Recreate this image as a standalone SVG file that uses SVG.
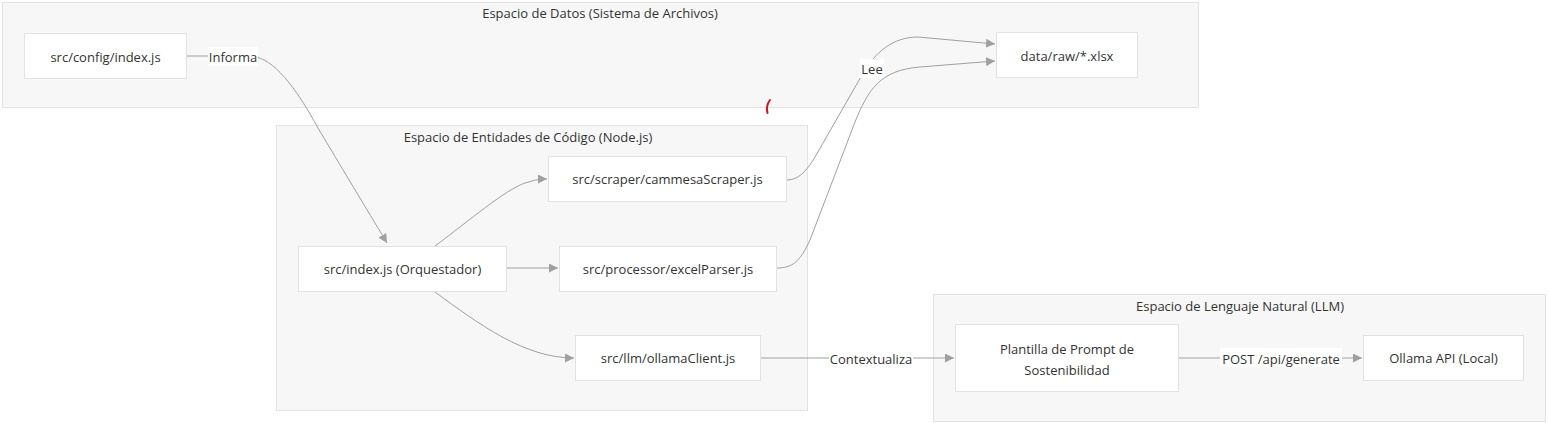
<svg xmlns="http://www.w3.org/2000/svg" width="1549" height="423" viewBox="0 0 1549 423">
  <style>
    text { font-family: "Open Sans", "Noto Sans", "Liberation Sans", sans-serif; font-size: 13px; fill: #333333; }
    .cluster rect { fill: #f7f7f7; stroke: #e2e2e2; stroke-width: 1; }
    .node rect { fill: #ffffff; stroke: #e2e2e2; stroke-width: 1; }
    .edge { fill: none; stroke: #a0a0a0; stroke-width: 1; }
    .lbl-bg { fill: #ffffff; }
    .mid { text-anchor: middle; dominant-baseline: central; }
  </style>
  <defs>
    <marker id="arrow" viewBox="0 0 10 10" refX="10" refY="5" markerWidth="9" markerHeight="9" markerUnits="userSpaceOnUse" orient="auto">
      <path d="M0,0 L10,5 L0,10 z" fill="#a0a0a0"/>
    </marker>
  </defs>
  <rect width="1549" height="423" fill="#ffffff"/>

  <!-- subgraphs -->
  <g id="cluster-datos" class="cluster">
    <rect x="2.5" y="2.5" width="1196" height="105"/>
    <text class="mid" x="600" y="13">Espacio de Datos (Sistema de Archivos)</text>
  </g>
  <g id="cluster-codigo" class="cluster">
    <rect x="276.5" y="125.5" width="531" height="285"/>
    <text class="mid" x="528" y="137">Espacio de Entidades de Código (Node.js)</text>
  </g>
  <g id="cluster-llm" class="cluster">
    <rect x="933.5" y="294.5" width="612" height="127"/>
    <text class="mid" x="1240" y="306">Espacio de Lenguaje Natural (LLM)</text>
  </g>

  <!-- connectors -->
  <g id="connectors">
    <path class="edge" d="M186,56 L208,56"/>
    <path class="edge" d="M256,57 C278,62 300,95 318,128 C340,165 366,208 387,243" marker-end="url(#arrow)"/>
    <path class="edge" d="M435,246 C470,220 505,190 525,183 Q535,179 547,179" marker-end="url(#arrow)"/>
    <path class="edge" d="M507,268 L558,268" marker-end="url(#arrow)"/>
    <path class="edge" d="M435,292 C480,325 525,358 574,358" marker-end="url(#arrow)"/>
    <path class="edge" d="M787,180 C798,180 806,172 815,157 L862,75 C875,52 893,37 918,37 L995,44" marker-end="url(#arrow)"/>
    <path class="edge" d="M777,268 C792,268 800,262 810,240 L855,122 C868,90 880,70 920,67 L995,61" marker-end="url(#arrow)"/>
    <path class="edge" d="M761,358 L954,358" marker-end="url(#arrow)"/>
    <path class="edge" d="M1179,358 L1362,358" marker-end="url(#arrow)"/>

    <!-- edge labels -->
    <rect class="lbl-bg" x="208" y="47" width="50" height="19"/>
    <text class="mid" x="233" y="56.5">Informa</text>
    <rect class="lbl-bg" x="860" y="59" width="24" height="19"/>
    <text class="mid" x="872" y="69">Lee</text>
    <rect class="lbl-bg" x="829" y="349" width="84" height="19"/>
    <text class="mid" x="871" y="358.5">Contextualiza</text>
    <rect class="lbl-bg" x="1220" y="348" width="122" height="19"/>
    <text class="mid" x="1281" y="358.5">POST /api/generate</text>
  </g>

  <!-- nodes -->
  <g id="node-config" class="node">
    <rect x="24.5" y="33.5" width="162" height="45"/>
    <text class="mid" x="105.5" y="56.5">src/config/index.js</text>
  </g>
  <g id="node-data" class="node">
    <rect x="996.5" y="32.5" width="141" height="45"/>
    <text class="mid" x="1067" y="55.5">data/raw/*.xlsx</text>
  </g>
  <g id="node-index" class="node">
    <rect x="298.5" y="246.5" width="208" height="45"/>
    <text class="mid" x="402.5" y="269">src/index.js (Orquestador)</text>
  </g>
  <g id="node-scraper" class="node">
    <rect x="548.5" y="156.5" width="238" height="45"/>
    <text class="mid" x="667.5" y="179">src/scraper/cammesaScraper.js</text>
  </g>
  <g id="node-parser" class="node">
    <rect x="559.5" y="246.5" width="217" height="45"/>
    <text class="mid" x="668" y="269">src/processor/excelParser.js</text>
  </g>
  <g id="node-ollama-client" class="node">
    <rect x="575.5" y="335.5" width="185" height="45"/>
    <text class="mid" x="668" y="358">src/llm/ollamaClient.js</text>
  </g>
  <g id="node-prompt" class="node">
    <rect x="955.5" y="324.5" width="223" height="67"/>
    <text class="mid" x="1067" y="348.5">Plantilla de Prompt de</text>
    <text class="mid" x="1067" y="369.5">Sostenibilidad</text>
  </g>
  <g id="node-ollama-api" class="node">
    <rect x="1363.5" y="335.5" width="160" height="45"/>
    <text class="mid" x="1443.5" y="358">Ollama API (Local)</text>
  </g>

  <!-- stray pen mark -->
  <path d="M770,100 Q765.5,106 767.5,113" fill="none" stroke="#d0142c" stroke-width="2" stroke-linecap="round"/>
</svg>
